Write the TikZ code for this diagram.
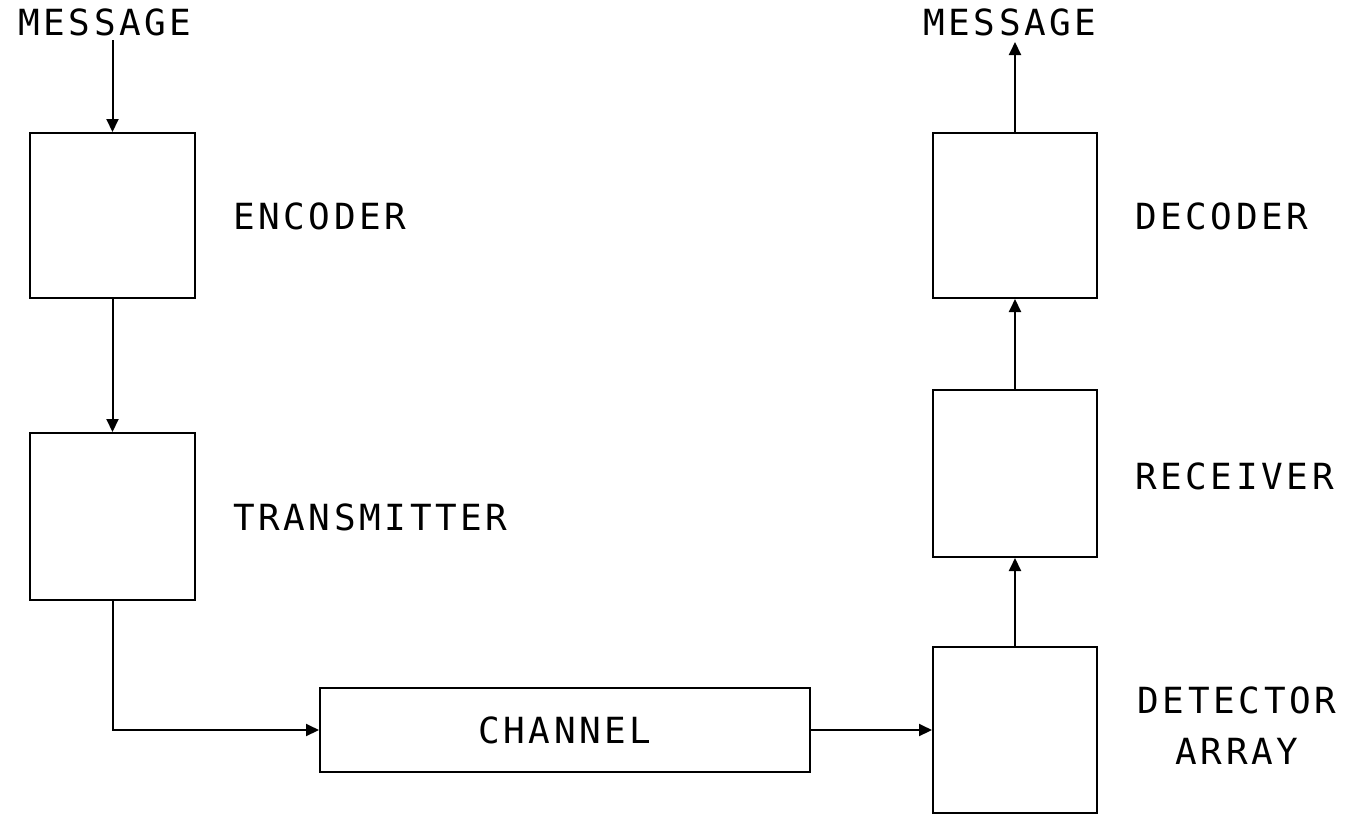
\documentclass[tikz,border=0pt]{standalone}
\usepackage{fontspec}
\setmainfont[LetterSpace=10]{DejaVu Sans Mono}
\usetikzlibrary{arrows.meta}
\tikzset{
  blk/.style={draw, line width=2pt},
  lbl/.style={font=\fontsize{36}{43}\selectfont, inner sep=0pt},
  conn/.style={line width=2pt, -{Triangle[length=13pt,width=12pt]}},
}
\begin{document}
\begin{tikzpicture}[x=1pt,y=-1pt]
\useasboundingbox (0,0) rectangle (1349,815);
% boxes
\node[blk, minimum width=165pt, minimum height=165pt, inner sep=0pt] (enc) at (112.5,215.5) {};
\node[blk, minimum width=165pt, minimum height=167pt, inner sep=0pt] (tra) at (112.5,516.5) {};
\node[blk, minimum width=490pt, minimum height=84pt, inner sep=0pt] (cha) at (565,730) {};
\node[blk, minimum width=164pt, minimum height=165pt, inner sep=0pt] (dec) at (1015,215.5) {};
\node[blk, minimum width=164pt, minimum height=167pt, inner sep=0pt] (rec) at (1015,473.5) {};
\node[blk, minimum width=164pt, minimum height=166pt, inner sep=0pt] (det) at (1015,730) {};
% texts
\node[lbl, anchor=base] (min) at (105,35) {MESSAGE};
\node[lbl, anchor=base] (mout) at (1010,35) {MESSAGE};
\node[lbl, anchor=base west] (tenc) at (233,229) {ENCODER};
\node[lbl, anchor=base west] (ttra) at (233,530) {TRANSMITTER};
\node[lbl, anchor=base] (tcha) at (565,743) {CHANNEL};
\node[lbl, anchor=base west] (tdec) at (1135,229) {DECODER};
\node[lbl, anchor=base west] (trec) at (1135,489) {RECEIVER};
\node[lbl, anchor=base] (tdet) at (1237,713) {DETECTOR};
\node[lbl, anchor=base] (tarr) at (1237,764) {ARRAY};
% connectors
\coordinate (a1) at (112.5,40);
\coordinate (a2) at (1015,42);
\draw[conn] (a1) -- (enc.north);
\draw[conn] (enc.south) -- (tra.north);
\draw[conn] (tra.south) |- (cha.west);
\draw[conn] (cha.east) -- (det.west);
\draw[conn] (det.north) -- (rec.south);
\draw[conn] (rec.north) -- (dec.south);
\draw[conn] (dec.north) -- (a2);
\end{tikzpicture}
\end{document}
